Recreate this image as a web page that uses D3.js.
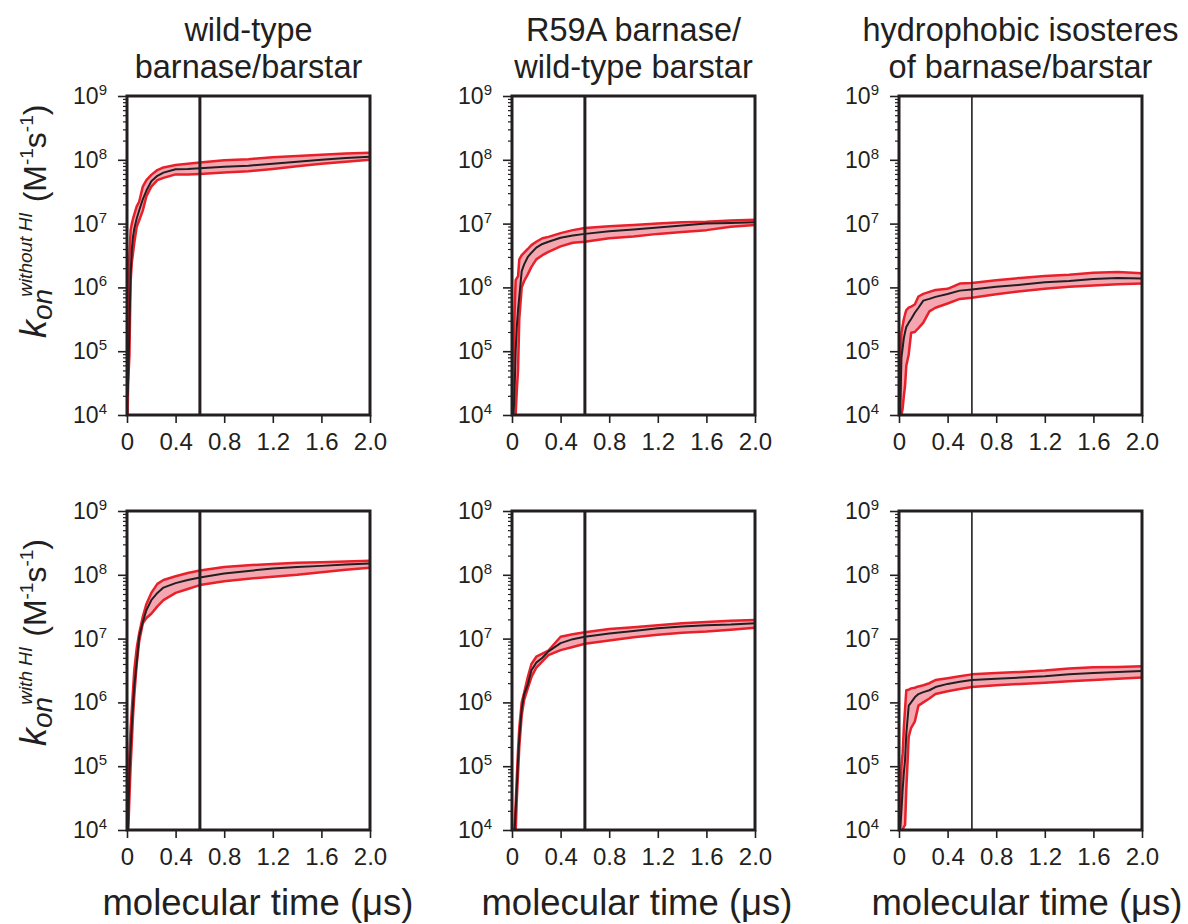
<!DOCTYPE html>
<html><head><meta charset="utf-8">
<script src="https://cdn.jsdelivr.net/npm/d3@7"></script>
<style>
body{margin:0;background:#fff;}
svg{display:block;}
text{font-family:"Liberation Sans",Arial,Helvetica,sans-serif;fill:#231f20;}
</style>
</head><body><svg id="c" width="1188" height="924"></svg>
<script>
// ---------- data ----------
const times = [0.005,0.01,0.02,0.03,0.04,0.05,0.06,0.08,0.10,0.13,0.16,0.20,0.25,0.30,0.40,0.50,0.60,0.80,1.00,1.20,1.40,1.60,1.80,2.00];

// wild-type barnase/barstar, without HI
const wtNoHI_mean = [2.0e4,3.5e4,2.5e5,1.6e6,4.0e6,6.3e6,8.3e6,1.2e7,1.6e7,2.4e7,3.3e7,4.6e7,5.6e7,6.3e7,7.1e7,7.2e7,7.4e7,7.8e7,8.1e7,8.7e7,9.3e7,1.0e8,1.07e8,1.12e8];
const wtNoHI_hi   = [1.0e5,1.0e6,3.2e6,7.9e6,1.0e7,1.2e7,1.4e7,1.86e7,2.2e7,3.8e7,4.8e7,5.8e7,6.9e7,7.6e7,8.3e7,8.7e7,9.1e7,9.8e7,1.02e8,1.10e8,1.15e8,1.2e8,1.26e8,1.29e8];
const wtNoHI_lo   = [1.0e4,3.5e4,8.5e4,1.26e6,2.5e6,3.5e6,5.0e6,8.9e6,1.12e7,1.6e7,2.7e7,3.8e7,4.8e7,5.2e7,5.9e7,5.9e7,6.0e7,6.3e7,6.6e7,7.2e7,7.9e7,8.7e7,9.3e7,1.0e8];

// R59A barnase / wild-type barstar, without HI
const r59NoHI_mean = [8e3,8e3,2.0e4,1.0e5,2.5e5,4.5e5,7.2e5,1.8e6,2.3e6,3.0e6,3.5e6,4.2e6,4.8e6,5.2e6,6.0e6,6.5e6,6.9e6,7.6e6,8.1e6,8.7e6,9.3e6,1.0e7,1.02e7,1.05e7];
const r59NoHI_hi   = [1.0e4,3.2e4,3.2e5,1.3e6,1.4e6,1.5e6,2.75e6,3.2e6,3.5e6,4.0e6,4.6e6,5.2e6,5.9e6,6.2e6,7.1e6,7.9e6,8.5e6,9.1e6,9.5e6,1.0e7,1.05e7,1.07e7,1.12e7,1.15e7];
const r59NoHI_lo   = [8e3,8e3,8e3,1.0e4,2.5e4,5.2e4,3.2e5,1.0e6,1.26e6,1.6e6,2.1e6,2.75e6,3.2e6,3.6e6,4.4e6,5.0e6,5.2e6,5.9e6,6.3e6,6.9e6,7.4e6,7.9e6,8.9e6,9.5e6];

// hydrophobic isosteres, without HI
const hyNoHI_mean = [8e3,1.0e4,7.9e4,1.12e5,1.6e5,2.0e5,2.4e5,2.8e5,3.2e5,4.0e5,4.8e5,6.2e5,6.6e5,7.1e5,7.9e5,8.9e5,9.3e5,1.02e6,1.1e6,1.2e6,1.26e6,1.35e6,1.41e6,1.38e6];
const hyNoHI_hi   = [1.0e4,3.6e4,1.95e5,2.5e5,3.2e5,3.8e5,4.4e5,4.8e5,5.0e5,5.4e5,7.2e5,7.9e5,8.5e5,9.1e5,9.5e5,1.15e6,1.17e6,1.29e6,1.41e6,1.51e6,1.58e6,1.7e6,1.74e6,1.66e6];
const hyNoHI_lo   = [8e3,8e3,1.0e4,1.26e4,2.0e4,2.9e4,5.9e4,8.9e4,1.95e5,2.0e5,2.3e5,2.8e5,4.2e5,4.8e5,5.6e5,6.6e5,6.9e5,7.8e5,8.7e5,9.5e5,1.02e6,1.07e6,1.12e6,1.15e6];

// wild-type, with HI
const wtHI_mean = [8e3,1.26e4,7.8e4,2.0e5,4.5e5,9.5e5,1.8e6,4.2e6,1.07e7,1.8e7,2.8e7,4.0e7,5.2e7,6.3e7,7.4e7,8.3e7,9.1e7,1.05e8,1.15e8,1.26e8,1.32e8,1.38e8,1.45e8,1.51e8];
const wtHI_hi   = [1.0e4,4.3e4,1.6e5,4.0e5,7.9e5,1.6e6,3.2e6,7.1e6,1.2e7,2.2e7,3.5e7,5.2e7,7.2e7,8.3e7,9.5e7,1.07e8,1.17e8,1.32e8,1.41e8,1.48e8,1.55e8,1.58e8,1.62e8,1.66e8];
const wtHI_lo   = [8e3,9e3,3.2e4,1.0e5,2.5e5,6.3e5,1.26e6,4.0e6,8.9e6,1.74e7,2.1e7,2.45e7,3.2e7,4.0e7,5.2e7,6.0e7,6.9e7,7.9e7,8.7e7,9.3e7,1.0e8,1.1e8,1.2e8,1.29e8];

// R59A, with HI
const r59HI_mean = [8e3,8e3,8.9e3,2.0e4,5.0e4,1.26e5,2.8e5,7.9e5,1.35e6,1.9e6,3.2e6,4.2e6,5.0e6,6.3e6,8.5e6,9.8e6,1.07e7,1.2e7,1.32e7,1.45e7,1.55e7,1.62e7,1.66e7,1.74e7];
const r59HI_hi   = [8e3,8e3,1.0e4,2.5e4,7.1e4,1.8e5,4.0e5,1.0e6,1.41e6,2.5e6,4.0e6,5.2e6,5.8e6,6.5e6,1.07e7,1.17e7,1.26e7,1.41e7,1.51e7,1.62e7,1.74e7,1.82e7,1.9e7,1.95e7];
const r59HI_lo   = [8e3,8e3,8e3,8.9e3,3.2e4,7.9e4,2.0e5,6.3e5,1.1e6,1.66e6,2.5e6,3.5e6,4.4e6,5.5e6,6.6e6,7.4e6,8.3e6,9.3e6,1.05e7,1.15e7,1.23e7,1.29e7,1.38e7,1.48e7];

// hydrophobic isosteres, with HI
const hyHI_mean = [8e3,1.0e4,2.0e4,4.3e4,7.9e4,1.26e5,3.2e5,8.9e5,1.0e6,1.2e6,1.35e6,1.45e6,1.55e6,1.74e6,1.95e6,2.1e6,2.24e6,2.34e6,2.45e6,2.57e6,2.75e6,2.9e6,3.0e6,3.1e6];
const hyHI_hi   = [1.0e4,2.0e4,1.0e5,1.6e5,4.0e5,7.9e5,1.55e6,1.58e6,1.66e6,1.7e6,1.78e6,1.86e6,2.0e6,2.24e6,2.4e6,2.57e6,2.75e6,2.9e6,3.0e6,3.16e6,3.4e6,3.55e6,3.6e6,3.7e6];
const hyHI_lo   = [8e3,8e3,8.9e3,1.0e4,1.12e4,1.2e4,4.3e4,2.9e5,4.0e5,5.0e5,8.9e5,1.0e6,1.15e6,1.35e6,1.5e6,1.62e6,1.74e6,1.86e6,1.95e6,2.04e6,2.14e6,2.24e6,2.34e6,2.45e6];

const columnTitles = [["wild-type","barnase/barstar"],["R59A barnase/","wild-type barstar"],["hydrophobic isosteres","of barnase/barstar"]];
const xTicks = [0,0.4,0.8,1.2,1.6,2.0];
const xTickLabels = ["0","0.4","0.8","1.2","1.6","2.0"];
const yTicks = [1e4,1e5,1e6,1e7,1e8,1e9];
const yTickExps = ["4","5","6","7","8","9"];
const markerTime = 0.6;
const xLabel = "molecular time (\u03bcs)";

const panels = [
  {mean:wtNoHI_mean, lo:wtNoHI_lo, hi:wtNoHI_hi},
  {mean:r59NoHI_mean, lo:r59NoHI_lo, hi:r59NoHI_hi},
  {mean:hyNoHI_mean, lo:hyNoHI_lo, hi:hyNoHI_hi},
  {mean:wtHI_mean, lo:wtHI_lo, hi:wtHI_hi},
  {mean:r59HI_mean, lo:r59HI_lo, hi:r59HI_hi},
  {mean:hyHI_mean, lo:hyHI_lo, hi:hyHI_hi}
];

// ---------- layout ----------
const svg = d3.select("#c");
const colLeft = [127,512,899], rowTop = [96,511], W = 243, H = 319;
const markerWidth = [3,3,1.6];
const INK = "#231f20", RED = "#e8202a", PINK = "#f5a7b1";
const defs = svg.append("defs");

const minorTicks = [];
for (let e = 4; e < 9; e++) for (let m = 2; m <= 9; m++) minorTicks.push(m * Math.pow(10, e));

panels.forEach((p, i) => {
  const col = i % 3, row = Math.floor(i / 3);
  const x0 = colLeft[col], y0 = rowTop[row];
  const x = d3.scaleLinear().domain([0, 2]).range([x0, x0 + W]);
  const y = d3.scaleLog().domain([1e4, 1e9]).range([y0 + H, y0]);

  defs.append("clipPath").attr("id", "clip" + i)
    .append("rect").attr("x", x0).attr("y", y0).attr("width", W).attr("height", H);

  const pts = times.map((t, j) => ({t, m: p.mean[j], lo: p.lo[j], hi: p.hi[j]}));
  const g = svg.append("g").attr("clip-path", `url(#clip${i})`);

  g.append("path").datum(pts)
    .attr("d", d3.area().x(d => x(d.t)).y0(d => y(d.lo)).y1(d => y(d.hi)))
    .attr("fill", PINK);
  ["lo", "hi"].forEach(k => {
    g.append("path").datum(pts)
      .attr("d", d3.line().x(d => x(d.t)).y(d => y(d[k])))
      .attr("fill", "none").attr("stroke", RED).attr("stroke-width", 2.5).attr("stroke-linejoin", "round");
  });
  g.append("path").datum(pts)
    .attr("d", d3.line().x(d => x(d.t)).y(d => y(d.m)))
    .attr("fill", "none").attr("stroke", INK).attr("stroke-width", 2).attr("stroke-linejoin", "round");

  // marker line
  svg.append("line")
    .attr("x1", x(markerTime)).attr("x2", x(markerTime))
    .attr("y1", y0).attr("y2", y0 + H)
    .attr("stroke", INK).attr("stroke-width", markerWidth[col]);

  // axes
  const xa = svg.append("g").attr("transform", `translate(0,${y0 + H})`)
    .call(d3.axisBottom(x).tickValues(xTicks).tickFormat((d, k) => xTickLabels[k]).tickSize(8).tickSizeOuter(0).tickPadding(10));
  xa.select(".domain").remove();
  xa.selectAll("line").attr("stroke", INK).attr("stroke-width", 1.6);
  xa.selectAll("text").attr("font-size", 24).attr("fill", INK)
    .attr("font-family", '"Liberation Sans",Arial,sans-serif');

  const ya = svg.append("g").attr("transform", `translate(${x0},0)`)
    .call(d3.axisLeft(y).tickValues(yTicks).tickFormat("").tickSize(9).tickSizeOuter(0));
  ya.select(".domain").remove();
  ya.selectAll("line").attr("stroke", INK).attr("stroke-width", 1.6);
  const ym = svg.append("g").attr("transform", `translate(${x0},0)`)
    .call(d3.axisLeft(y).tickValues(minorTicks).tickFormat("").tickSize(4).tickSizeOuter(0));
  ym.select(".domain").remove();
  ym.selectAll("line").attr("stroke", INK).attr("stroke-width", 1.2);

  yTicks.forEach((v, k) => {
    const t = svg.append("text").attr("x", x0 - 20).attr("y", y(v) + 8).attr("text-anchor", "end");
    t.append("tspan").attr("font-size", 23).text("10");
    t.append("tspan").attr("font-size", 15).attr("dy", -9).text(yTickExps[k]);
  });

  // frame
  svg.append("rect").attr("x", x0).attr("y", y0).attr("width", W).attr("height", H)
    .attr("fill", "none").attr("stroke", INK).attr("stroke-width", 3);
});

// column titles
columnTitles.forEach((lines, c) => {
  lines.forEach((s, k) => {
    svg.append("text").attr("x", colLeft[c] + W / 2).attr("y", 41 + k * 37)
      .attr("text-anchor", "middle").attr("font-size", 32.5).text(s);
  });
});

// x labels
[258, 637, 1027].forEach(cx => {
  svg.append("text").attr("x", cx).attr("y", 915).attr("text-anchor", "middle")
    .attr("font-size", 36.5).text(xLabel);
});

// y labels
[["without HI", 338], ["with HI", 746]].forEach(([sup, sy]) => {
  const t = svg.append("text").attr("transform", `translate(46,${sy}) rotate(-90)`);
  t.append("tspan").attr("font-size", 36).attr("font-style", "italic").text("k");
  t.append("tspan").attr("font-size", 28).attr("font-style", "italic").attr("dy", 6).text("on");
  t.append("tspan").attr("font-size", 19).attr("font-style", "italic").attr("dx", -8).attr("dy", -20).text(sup);
  t.append("tspan").attr("font-size", 32).attr("dx", 10).attr("dy", 14).text("(M");
  t.append("tspan").attr("font-size", 19).attr("dy", -13).text("-1");
  t.append("tspan").attr("font-size", 32).attr("dy", 13).text("s");
  t.append("tspan").attr("font-size", 19).attr("dy", -13).text("-1");
  t.append("tspan").attr("font-size", 32).attr("dy", 13).text(")");
});
</script></body></html>
